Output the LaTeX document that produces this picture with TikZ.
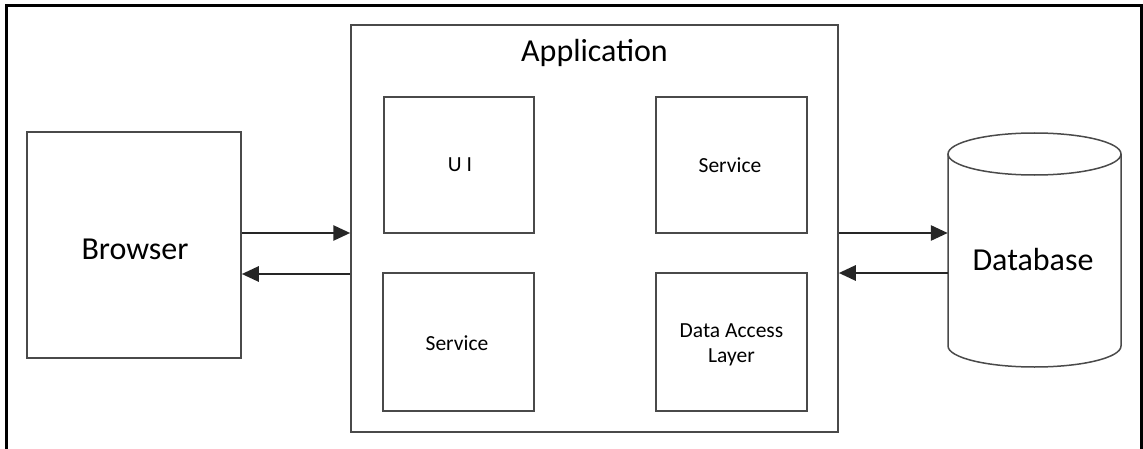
\documentclass[tikz,border=0pt]{standalone}
\usepackage{fontspec}
\setmainfont{Carlito}
\usetikzlibrary{arrows.meta}
\definecolor{boxline}{HTML}{4A4A4A}
\definecolor{arrowline}{HTML}{262626}
\tikzset{
  box/.style={draw=boxline, line width=1.5pt, minimum width=#1, inner sep=0pt, align=center},
  bigtext/.style={font=\fontsize{32}{36}\selectfont},
  smalltext/.style={font=\fontsize{21.5}{25}\selectfont, align=center},
  conn/.style={draw=arrowline, line width=2.8pt, -{Triangle[length=17pt,width=15pt]}},
}
\begin{document}
\begin{tikzpicture}[x=1pt,y=1pt]
\useasboundingbox (0,0) rectangle (1143,448);
% outer frame (bottom edge outside the picture)
\draw[line width=3pt, black] (6,-10) -- (6,442) -- (1141,442) -- (1141,-10);
% browser
\node[box=214pt, minimum height=226pt] (browser) at (134,203) {};
\node[bigtext] (browserlabel) at (135,199) {Browser};
% application
\node[box=487pt, minimum height=407pt] (app) at (594.5,219.5) {};
\node[bigtext] (applabel) at (594.5,395) {Application};
\node[box=150pt, minimum height=136pt] (ui) at (459,283) {};
\node[smalltext] (uilabel) at (460,283) {U I};
\node[box=151pt, minimum height=136pt] (svc1) at (731.5,283) {};
\node[smalltext] (svc1label) at (730,283) {Service};
\node[box=151pt, minimum height=138pt] (svc2) at (458.5,106) {};
\node[smalltext] (svc2label) at (457,105) {Service};
\node[box=151pt, minimum height=138pt] (dal) at (731.5,106) {};
\node[smalltext, font=\fontsize{21.5}{25}\selectfont] (dallabel) at (731.5,103) {Data Access\\Layer};
% database cylinder
\draw[draw=boxline, line width=1.5pt, fill=white]
  (948,294) -- (948,102) arc[start angle=180, end angle=360, x radius=86.5pt, y radius=21pt]
  -- (1121,294);
\draw[draw=boxline, line width=1.5pt] (1034.5,294) ellipse[x radius=86.5pt, y radius=21pt];
\node[minimum width=173pt, minimum height=192pt, inner sep=0pt] (db) at (1034.5,198) {};
\node[bigtext] (dblabel) at (1033,188) {Database};
% connectors
\coordinate (bA) at (browser.east |- 0,215);
\coordinate (aA) at (app.west |- 0,215);
\coordinate (bB) at (browser.east |- 0,174);
\coordinate (aB) at (app.west |- 0,174);
\draw[conn] (bA) -- (aA);
\draw[conn] (aB) -- (bB);
\coordinate (aC) at (app.east |- 0,215);
\coordinate (dC) at (db.west |- 0,215);
\coordinate (aD) at (app.east |- 0,175);
\coordinate (dD) at (db.west |- 0,175);
\draw[conn] (aC) -- (dC);
\draw[conn] (dD) -- (aD);
\end{tikzpicture}
\end{document}
